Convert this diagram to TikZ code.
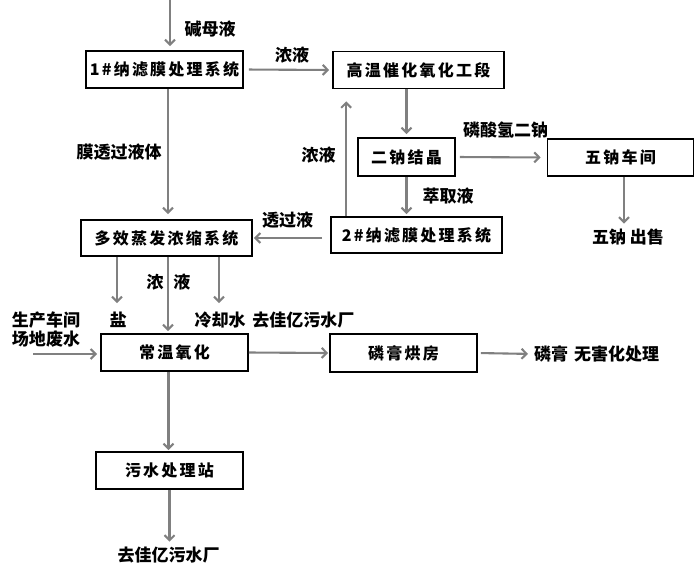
\documentclass[tikz,border=0pt]{standalone}
\usepackage{fontspec}
\setmainfont{Noto Sans CJK SC}
\newfontfamily\boxfont[LetterSpace=14]{Noto Sans CJK SC}
\usetikzlibrary{arrows.meta}
\definecolor{arrowgray}{RGB}{128,128,128}
\begin{document}
\begin{tikzpicture}[x=1pt,y=-1pt,
  proc/.style={draw=black, line width=1.6pt, minimum height=37pt, inner sep=0pt,
    font=\boxfont\bfseries\fontsize{16}{18}\selectfont},
  flow/.style={draw=arrowgray, line width=2.1pt, -{Straight Barb[length=5pt,width=10pt]}},
  lbl/.style={inner sep=0pt, font=\bfseries\fontsize{17}{19}\selectfont}]
\useasboundingbox (0,0) rectangle (695,576);

% boxes
\node[proc, minimum width=157pt] (b1) at (164.5,69.5) {1\#纳滤膜处理系统};
\node[proc, minimum width=171pt] (gw) at (418.5,70) {高温催化氧化工段};
\node[proc, minimum width=97pt, minimum height=38pt] (ena) at (406.5,157) {二钠结晶};
\node[proc, minimum width=146pt] (wuna) at (620.5,157.5) {五钠车间};
\node[proc, minimum width=171pt, minimum height=36pt] (b2) at (416.5,235) {2\#纳滤膜处理系统};
\node[proc, minimum width=171pt, minimum height=36pt] (duo) at (166.5,238) {多效蒸发浓缩系统};
\node[proc, minimum width=147pt] (cw) at (174.5,352.5) {常温氧化};
\node[proc, minimum width=147pt, minimum height=38pt] (lg) at (403.5,353) {磷膏烘房};
\node[proc, minimum width=147pt] (ws) at (169.5,470.5) {污水处理站};

% end labels
\node[lbl] (sale) at (628,237) {五钠 出售};
\node[lbl] (salt) at (118,320) {盐};
\node[lbl] (cool) at (274.5,320) {冷却水\hspace{7pt}去佳亿污水厂};
\node[lbl, align=left] (inlbl) at (46,329.5) {生产车间\\场地废水};
\node[lbl, anchor=west] (phos) at (534,354) {磷膏\hspace{6pt}无害化处理};
\node[lbl] (out) at (168.5,555) {去佳亿污水厂};

% coordinates
\coordinate (src) at (170,0);
\coordinate (saltend) at (117,303);
\coordinate (coolend) at (219,303);
\coordinate (inp) at (33,354);

% connectors
\draw[flow, shorten >=4pt] (src) -- (src |- b1.north);
\draw[flow, shorten <=5pt, shorten >=3pt] (b1.east) -- (gw.west);
\draw[flow, shorten >=3pt] (ena.north |- gw.south) -- (ena.north);
\draw[flow, shorten <=4pt, shorten >=6pt] (ena.east) -- (wuna.west);
\draw[flow, shorten >=5pt] ([xshift=3.5pt]wuna.south) -- ([xshift=3.5pt]wuna.south |- sale.north);
\draw[flow, shorten >=2pt] (ena.south) -- (ena.south |- b2.north);
\draw[flow, shorten >=12pt] ([xshift=16pt]b2.north west) -- ([xshift=16pt]b2.north west |- gw.south);
\draw[flow, shorten <=8pt, shorten >=1pt] (b2.west |- duo.east) -- (duo.east);
\draw[flow, shorten >=5pt] ([xshift=3.5pt]b1.south) -- ([xshift=3.5pt]b1.south |- duo.north);
\draw[flow] (duo.south -| saltend) -- (saltend);
\draw[flow] (duo.south -| coolend) -- (coolend);
\draw[flow, shorten >=2pt] ([xshift=1.5pt]duo.south) -- ([xshift=1.5pt]duo.south |- cw.north);
\draw[flow, shorten >=3pt] (inp) -- (inp -| cw.west);
\draw[flow, shorten >=1pt] (cw.east) -- (lg.west);
\draw[flow, shorten <=3pt, shorten >=6pt] (lg.east) -- (phos.west);
\draw[flow, shorten >=1pt] ([xshift=-6pt]cw.south) -- ([xshift=-6pt]cw.south |- ws.north);
\draw[flow, shorten >=5pt] (ws.south) -- (ws.south |- out.north);

% connector labels
\node[lbl] at (210,29) {碱母液};
\node[lbl] at (292,55) {浓液};
\node[lbl] at (505.5,130) {磷酸氢二钠};
\node[lbl] at (448,196) {萃取液};
\node[lbl] at (318.5,155) {浓液};
\node[lbl] at (287.5,220) {透过液};
\node[lbl] at (119,152) {膜透过液体};
\node[lbl] at (168.5,282) {浓\hspace{10pt}液};
\end{tikzpicture}
\end{document}
